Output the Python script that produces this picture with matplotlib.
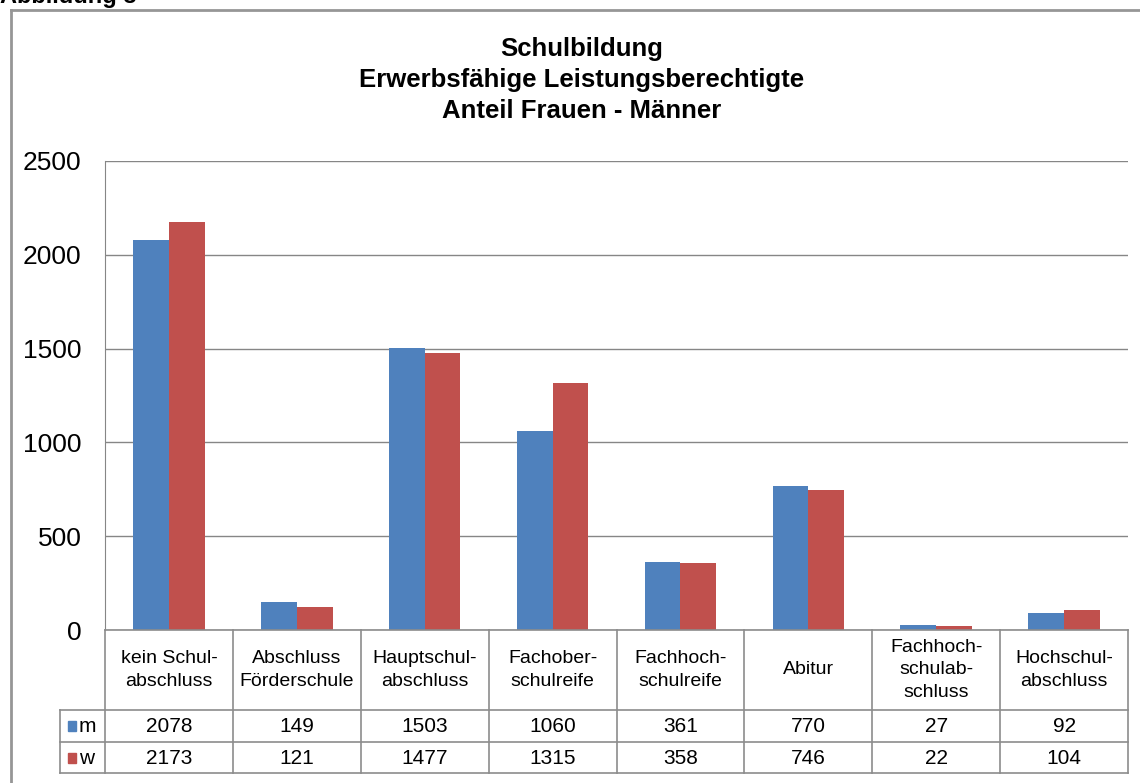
import matplotlib.pyplot as plt
import numpy as np

plt.rcParams['font.family'] = ['Liberation Sans', 'DejaVu Sans']

kategorien = ["kein Schul-\nabschluss", "Abschluss\nFörderschule", "Hauptschul-\nabschluss",
              "Fachober-\nschulreife", "Fachhoch-\nschulreife", "Abitur",
              "Fachhoch-\nschulab-\nschluss", "Hochschul-\nabschluss"]
m = [2078, 149, 1503, 1060, 361, 770, 27, 92]
w = [2173, 121, 1477, 1315, 358, 746, 22, 104]
serien = ["m", "w"]
farben = ["#4F81BD", "#C0504D"]
rahmen = "#969696"

W, H = 1140, 783
fig = plt.figure(figsize=(W / 100, H / 100), dpi=100)

# Rahmen des Diagramms
fig.add_artist(plt.Line2D([11 / W, 11 / W], [0, 1 - 10 / H], color=rahmen, lw=2))
fig.add_artist(plt.Line2D([11 / W, 1], [1 - 10 / H, 1 - 10 / H], color=rahmen, lw=2))
fig.text(0.0, 1 + 4 / H, "Abbildung 3", fontsize=17, fontweight='bold', va='center')

links, rechts = 105, 1128
oben, unten = 161, 630
ax = fig.add_axes([links / W, 1 - unten / H, (rechts - links) / W, (unten - oben) / H])

x = np.arange(len(m)) + 0.5
b = 0.28
ax.bar(x - b / 2, m, width=b, color=farben[0], zorder=3)
ax.bar(x + b / 2, w, width=b, color=farben[1], zorder=3)
ax.set_xlim(0, len(m))
ax.set_ylim(0, 2500)
ax.set_yticks([0, 500, 1000, 1500, 2000, 2500])
ax.yaxis.grid(True, color="#868686", lw=1)
ax.set_xticks([])
for s in ["top", "right", "bottom"]:
    ax.spines[s].set_visible(False)
ax.spines["left"].set_color("#868686")
ax.tick_params(axis='y', length=0, pad=17, labelsize=19)

fig.text(582 / W, 1 - 80 / H, "Schulbildung\nErwerbsfähige Leistungsberechtigte\nAnteil Frauen - Männer",
         ha='center', va='center', fontsize=18.5, fontweight='bold', linespacing=1.36)

# Datentabelle
tab = fig.add_axes([links / W, 1 - 773 / H, (rechts - links) / W, 143 / H])
tab.set_xlim(0, len(m))
tab.set_ylim(143, 0)
tab.axis('off')
einheit = (rechts - links) / len(m)
lx = -45 / einheit
lc = "#8c8c8c"
kw = dict(color=lc, lw=1.2, clip_on=False)
tab.plot([0, len(m)], [0, 0], **kw)
for yy in [80, 112, 143]:
    tab.plot([lx, len(m)], [yy, yy], **kw)
tab.plot([lx, lx], [80, 143], **kw)
for i in range(len(m) + 1):
    tab.plot([i, i], [0, 143], **kw)

for i, k in enumerate(kategorien):
    tab.text(i + 0.5, 40, k, ha='center', va='center', fontsize=14, linespacing=1.4, clip_on=False)
    tab.text(i + 0.5, 96, str(m[i]), ha='center', va='center', fontsize=15)
    tab.text(i + 0.5, 128, str(w[i]), ha='center', va='center', fontsize=15)

for j, (s, yy) in enumerate(zip(serien, [96, 128])):
    tab.add_patch(plt.Rectangle((lx + 8 / einheit, yy - 5), 8 / einheit, 10, color=farben[j], clip_on=False))
    tab.text(lx + 19 / einheit, yy, s, ha='left', va='center', fontsize=15, clip_on=False)

fig.savefig("out.png", dpi=100)
